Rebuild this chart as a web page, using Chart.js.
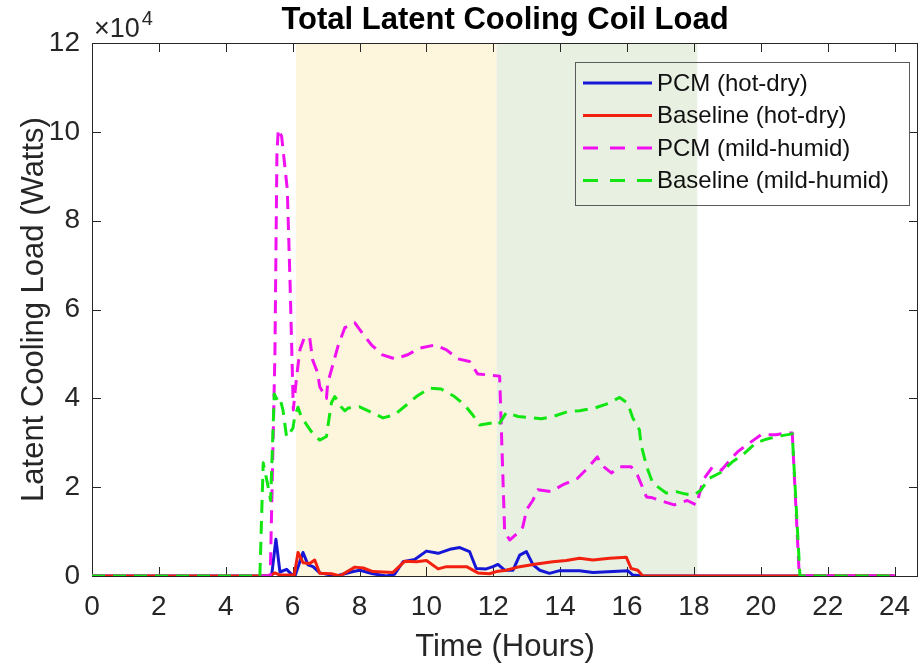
<!DOCTYPE html>
<html lang="en">
<head>
<meta charset="UTF-8">
<title>Total Latent Cooling Coil Load</title>
<script src="https://cdn.jsdelivr.net/npm/chart.js@4"></script>
<style>
  html, body { margin: 0; padding: 0; background: #fff; }
</style>
</head>
<body>
<canvas id="chart" width="920" height="666"></canvas>
<script>
// values: time in hours, load in watts
const pcmHotDryT = [0, 5.37, 5.5, 5.62, 5.82, 5.95, 6.07, 6.31, 6.46, 6.61, 6.81, 7.31, 7.81, 8.01, 8.4, 8.8, 9.05, 9.3, 9.65, 10.0, 10.35, 10.7, 11.0, 11.29, 11.49, 11.79, 11.99, 12.14, 12.34, 12.59, 12.79, 12.99, 13.19, 13.39, 13.68, 13.98, 14.58, 14.98, 15.58, 16.02, 16.17, 16.47, 24];
const pcmHotDryW = [0, 0, 8300, 900, 1500, 500, 0, 5300, 2500, 2100, 700, 0, 1000, 1300, 500, 0, 400, 3200, 3700, 5600, 5100, 6000, 6400, 5500, 1700, 1600, 2100, 2600, 1300, 1300, 4700, 5500, 2500, 1300, 600, 1200, 1200, 800, 1000, 1200, 200, 0, 0];

const baseHotDryT = [0, 5.3, 5.47, 5.62, 6.05, 6.16, 6.31, 6.51, 6.66, 6.81, 7.16, 7.41, 7.86, 8.11, 8.4, 9.0, 9.35, 9.7, 10.0, 10.35, 10.6, 11.2, 11.54, 11.89, 12.09, 12.39, 12.79, 13.29, 13.78, 14.18, 14.58, 14.98, 15.48, 15.98, 16.12, 16.32, 16.47, 24];
const baseHotDryW = [0, 0, 700, 200, 200, 5300, 3000, 2800, 3600, 600, 500, 0, 2000, 1800, 1000, 800, 3300, 3200, 3500, 1600, 2100, 2100, 700, 500, 1000, 1300, 2100, 2700, 3200, 3500, 4000, 3600, 4000, 4200, 1700, 1300, 0, 0];

const pcmHumidT = [0, 5.33, 5.47, 5.53, 5.57, 5.67, 5.77, 5.84, 5.92, 6.02, 6.12, 6.22, 6.36, 6.51, 6.6, 6.75, 6.81, 7.01, 7.05, 7.16, 7.35, 7.56, 7.86, 8.16, 8.36, 8.69, 9.05, 9.44, 9.8, 10.25, 10.6, 10.94, 11.29, 11.53, 11.94, 12.19, 12.34, 12.49, 12.73, 12.88, 13.0, 13.18, 13.33, 13.73, 14.07, 14.52, 14.82, 15.11, 15.24, 15.53, 15.78, 16.12, 16.31, 16.46, 16.58, 16.76, 17.12, 17.41, 17.8, 18.07, 18.22, 18.31, 18.55, 18.82, 19.07, 19.31, 19.71, 20.01, 20.46, 20.76, 20.94, 21.15, 24];
const pcmHumidW = [0, 0, 50000, 95000, 100600, 99000, 92000, 87000, 66700, 37400, 45000, 51000, 53900, 53600, 48600, 45700, 42600, 40000, 43500, 46400, 51600, 55900, 57000, 53900, 52000, 49800, 48900, 49800, 51300, 52000, 50900, 48900, 48300, 45500, 45200, 45000, 10000, 8100, 9700, 11000, 15000, 17000, 19400, 19000, 20500, 22000, 24300, 26800, 25000, 23200, 24600, 24600, 22700, 20000, 17800, 17600, 16700, 16000, 17000, 16000, 20000, 22000, 24500, 23800, 26000, 28000, 30200, 31800, 31800, 32200, 32200, 0, 0];

const baseHumidT = [0, 5.02, 5.12, 5.27, 5.34, 5.45, 5.55, 5.62, 5.71, 5.77, 5.82, 6.01, 6.06, 6.16, 6.26, 6.56, 6.81, 7.01, 7.06, 7.16, 7.26, 7.46, 7.56, 7.66, 8.0, 8.31, 8.7, 9.05, 9.4, 9.7, 10.1, 10.44, 10.84, 11.14, 11.38, 11.59, 11.99, 12.1, 12.2, 12.39, 12.74, 13.44, 13.78, 14.22, 14.58, 15.03, 15.38, 15.78, 16.02, 16.17, 16.37, 16.42, 16.52, 16.62, 16.77, 17.17, 17.47, 17.72, 18.0, 18.2, 18.46, 18.8, 19.15, 19.45, 19.86, 20.16, 20.55, 20.94, 21.17, 24];
const baseHumidW = [0, 0, 25500, 20000, 17000, 41000, 39500, 40000, 37400, 34000, 31300, 33300, 35800, 38000, 35800, 32500, 30600, 31400, 34000, 39000, 40400, 38000, 37200, 37800, 38100, 37000, 35600, 36300, 38500, 40400, 42300, 42100, 40400, 38500, 36300, 34000, 34500, 34000, 34500, 36800, 35900, 35400, 35900, 37000, 37200, 37800, 38700, 40200, 38900, 35600, 32900, 29500, 26600, 23900, 20900, 18700, 19000, 18500, 18200, 19300, 22000, 23300, 25700, 27200, 30000, 30800, 31500, 32000, 0, 0];

const seriesNames = ['PCM (hot-dry)', 'Baseline (hot-dry)', 'PCM (mild-humid)', 'Baseline (mild-humid)'];
const xTicks = [0, 2, 4, 6, 8, 10, 12, 14, 16, 18, 20, 22, 24];
const yTicks = [0, 2, 4, 6, 8, 10, 12]; // x 10^4
const bandStart = [6.1, 12.1];
const bandEnd = [12.1, 18.1];

const FONT = "'Liberation Sans', Arial, Helvetica, sans-serif";
const AXIS = '#262626';
const colors = ['#1616d6', '#f2200f', '#f010f0', '#12e612'];
const bandColors = ['#fdf5dc', '#e8f0e1'];
const dashed = [false, false, true, true];

function pts(t, w) {
  return t.map((v, i) => ({ x: v, y: w[i] }));
}

const decor = {
  id: 'decor',
  beforeDatasetsDraw(chart) {
    const { ctx, chartArea: a, scales: { x, y } } = chart;
    ctx.save();
    // shaded periods
    bandStart.forEach((s, i) => {
      const x0 = x.getPixelForValue(s), x1 = x.getPixelForValue(bandEnd[i]);
      ctx.fillStyle = bandColors[i];
      ctx.fillRect(x0, a.top, x1 - x0, a.bottom - a.top);
    });
    // box + inward ticks
    ctx.strokeStyle = AXIS;
    ctx.lineWidth = 1;
    ctx.strokeRect(a.left + 0.5, a.top + 0.5, a.right - a.left - 1, a.bottom - a.top);
    ctx.beginPath();
    xTicks.forEach(v => {
      const px = Math.round(x.getPixelForValue(v)) + 0.5;
      ctx.moveTo(px, a.bottom); ctx.lineTo(px, a.bottom - 9);
      ctx.moveTo(px, a.top); ctx.lineTo(px, a.top + 9);
    });
    yTicks.forEach(v => {
      const py = Math.round(y.getPixelForValue(v * 1e4)) + 0.5;
      ctx.moveTo(a.left, py); ctx.lineTo(a.left + 9, py);
      ctx.moveTo(a.right, py); ctx.lineTo(a.right - 9, py);
    });
    ctx.stroke();
    ctx.restore();
  },
  afterDatasetsDraw(chart) {
    const { ctx } = chart;
    // legend box
    ctx.save();
    ctx.strokeStyle = '#5a5a5a';
    ctx.lineWidth = 1;
    ctx.strokeRect(575.5, 62.5, 334, 143);
    ctx.font = '24px ' + FONT;
    ctx.textBaseline = 'middle';
    ctx.fillStyle = '#111';
    seriesNames.forEach((name, i) => {
      const yy = 83 + i * 32.5;
      ctx.strokeStyle = colors[i];
      ctx.lineWidth = 3;
      ctx.setLineDash(dashed[i] ? [15, 12] : []);
      ctx.beginPath();
      ctx.moveTo(583, yy); ctx.lineTo(652, yy);
      ctx.stroke();
      ctx.fillText(name, 657, yy + 1);
    });
    ctx.restore();
  },
  afterDraw(chart) {
    const { ctx, chartArea: a } = chart;
    ctx.save();
    ctx.fillStyle = '#000';
    ctx.textAlign = 'center';
    ctx.textBaseline = 'middle';
    ctx.font = 'bold 31px ' + FONT;
    ctx.fillText('Total Latent Cooling Coil Load', (a.left + a.right) / 2, 20);
    ctx.fillStyle = AXIS;
    ctx.textAlign = 'left';
    ctx.textBaseline = 'alphabetic';
    ctx.font = '27px ' + FONT;
    ctx.fillText('\u00d710', 94, 37);
    const w = ctx.measureText('\u00d710').width;
    ctx.font = '20px ' + FONT;
    ctx.fillText('4', 96 + w, 25);
    ctx.restore();
  }
};

const datasets = [pcmHotDryT, baseHotDryT, pcmHumidT, baseHumidT].map((t, i) => ({
  label: seriesNames[i],
  data: pts(t, [pcmHotDryW, baseHotDryW, pcmHumidW, baseHumidW][i]),
  borderColor: colors[i],
  borderWidth: 3,
  borderDash: dashed[i] ? [13, 8] : [],
  borderJoinStyle: 'round',
  pointRadius: 0,
  tension: 0,
  fill: false,
  order: 4 - i
}));

new Chart(document.getElementById('chart').getContext('2d'), {
  type: 'line',
  data: { datasets },
  plugins: [decor],
  options: {
    responsive: false,
    animation: false,
    layout: { padding: { top: 43, right: 2, left: 0, bottom: 0 } },
    plugins: { legend: { display: false }, tooltip: { enabled: false }, title: { display: false } },
    scales: {
      x: {
        type: 'linear',
        min: 0,
        max: 24.7,
        grid: { display: false, drawTicks: false },
        border: { display: false },
        afterBuildTicks: s => { s.ticks = xTicks.map(v => ({ value: v })); },
        afterFit: s => { s.height = 90; s.paddingLeft = 0; s.paddingRight = 0; },
        ticks: { padding: 14, color: AXIS, maxRotation: 0, autoSkip: false, font: { family: FONT, size: 28 } },
        title: { display: true, text: 'Time (Hours)', color: AXIS, font: { family: FONT, size: 31 }, padding: { top: 0, bottom: 0 } }
      },
      y: {
        min: 0,
        max: 120000,
        grid: { display: false, drawTicks: false },
        border: { display: false },
        afterBuildTicks: s => { s.ticks = yTicks.map(v => ({ value: v * 1e4 })); },
        afterFit: s => { s.width = 92; s.paddingTop = 0; s.paddingBottom = 0; },
        ticks: { padding: 12, color: AXIS, font: { family: FONT, size: 28 }, callback: v => v / 1e4 },
        title: { display: true, text: 'Latent Cooling Load (Watts)', color: AXIS, font: { family: FONT, size: 31 }, padding: { top: 16, bottom: 0 } }
      }
    }
  }
});
</script>
</body>
</html>
